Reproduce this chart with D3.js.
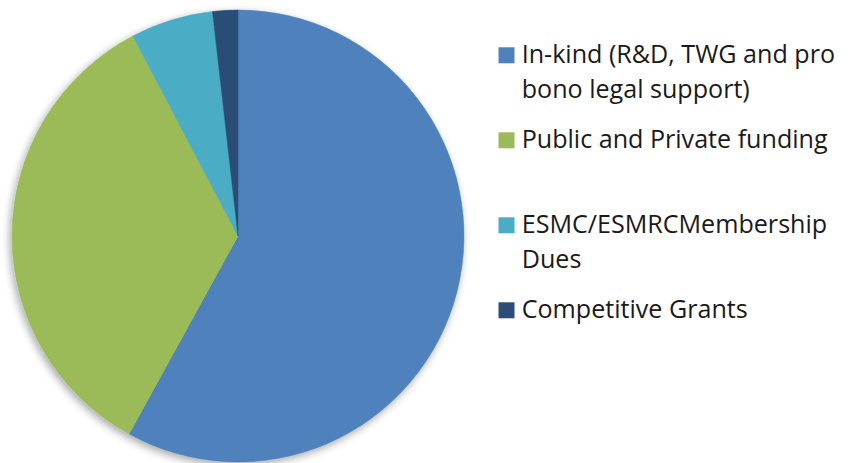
<!DOCTYPE html>
<html><head><meta charset="utf-8">
<script src="https://cdn.jsdelivr.net/npm/d3@7"></script>
<style>html,body{margin:0;padding:0;background:#fff;} svg{display:block;}</style>
</head><body>
<svg id="chart" width="862" height="463"></svg>
<script>
const categories = ["In-kind (R&D, TWG and pro bono legal support)", "Public and Private funding", "ESMC/ESMRCMembership Dues", "Competitive Grants"];
const values = [58.0, 34.3, 5.9, 1.8];
const legendLines = [["In-kind (R&D, TWG and pro", "bono legal support)"], ["Public and Private funding"], ["ESMC/ESMRCMembership", "Dues"], ["Competitive Grants"]];
const colors = ["#4F81BD", "#9BBB59", "#4BACC6", "#2C4D75"];

const svg = d3.select("#chart");
const cx = 238, cy = 236, r = 226;

const defs = svg.append("defs");
const f = defs.append("filter").attr("id","sh").attr("x","-20%").attr("y","-20%").attr("width","140%").attr("height","140%");
f.append("feGaussianBlur").attr("in","SourceAlpha").attr("stdDeviation",4).attr("result","b");
f.append("feOffset").attr("in","b").attr("dx",-2).attr("dy",3).attr("result","o");
f.append("feComponentTransfer").attr("in","o").attr("result","oa").append("feFuncA").attr("type","linear").attr("slope",0.35);
const m = f.append("feMerge");
m.append("feMergeNode").attr("in","oa");
m.append("feMergeNode").attr("in","SourceGraphic");

const pie = d3.pie().sort(null).value(d => d)(values);
const arc = d3.arc().innerRadius(0).outerRadius(r);
const g = svg.append("g").attr("transform", `translate(${cx},${cy})`).attr("filter","url(#sh)");
g.selectAll("path").data(pie).join("path")
  .attr("d", arc).attr("fill", (d,i) => colors[i])
  .attr("stroke", (d,i)=>colors[i]).attr("stroke-width",0.5);

// legend
const fontFam = "'Open Sans', 'Noto Sans', sans-serif";
const probe = svg.append("text").attr("font-family", fontFam).attr("font-size", 100).text("Public and Private funding");
const w100 = probe.node().getComputedTextLength();
probe.remove();
const fs = 100 * 306 / w100;

const baselines = [[63.3, 98.3], [148.3], [233.3, 268.3], [318.3]];
const lg = svg.append("g");
legendLines.forEach((lines, i) => {
  lg.append("rect").attr("x", 498.5).attr("y", baselines[i][0] - 16).attr("width", 16).attr("height", 16).attr("fill", colors[i]);
  const t = lg.append("text").attr("font-family", fontFam).attr("font-size", fs).attr("fill", "#1a1a1a");
  lines.forEach((ln, j) => {
    t.append("tspan").attr("x", 521.7).attr("y", baselines[i][j]).text(ln);
  });
});
</script>
</body></html>
